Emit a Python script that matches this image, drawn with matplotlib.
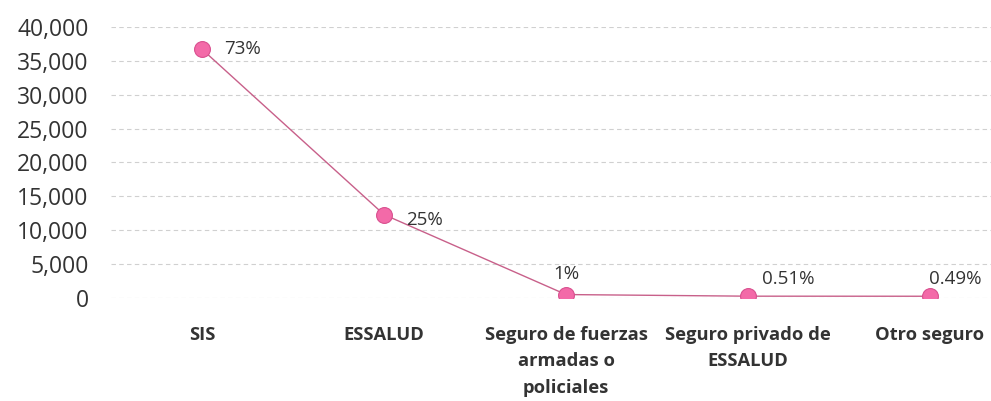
import matplotlib
matplotlib.use("Agg")
import matplotlib.pyplot as plt
from matplotlib.ticker import FuncFormatter

categories = ["SIS", "ESSALUD", "Seguro de fuerzas\narmadas o\npoliciales",
              "Seguro privado de\nESSALUD", "Otro seguro"]
values = [36700, 12300, 500, 260, 250]
labels = ["73%", "25%", "1%", "0.51%", "0.49%"]
yticks = [0, 5000, 10000, 15000, 20000, 25000, 30000, 35000, 40000]

plt.rcParams['font.family'] = ['Open Sans', 'DejaVu Sans']

fig = plt.figure(figsize=(9.91, 4.01), dpi=100)
ax = fig.add_axes([0.112, 0.257, 0.888, 0.676])
x = list(range(len(categories)))
ax.plot(x, values, color="#c8608a", linewidth=1.0, zorder=2)
ax.scatter(x, values, s=130, color="#f36aa8", edgecolor="#d9508f", linewidth=0.8, zorder=3)

offsets = [(16, 0, 'left', 'center'), (16, -4, 'left', 'center'), (0, 8, 'center', 'bottom'),
           (10, 6, 'left', 'bottom'), (18, 6, 'center', 'bottom')]
for xi, v, lab, (dx, dy, ha, va) in zip(x, values, labels, offsets):
    ax.annotate(lab, (xi, v), xytext=(dx, dy), textcoords="offset points",
                ha=ha, va=va, fontsize=13.5, color="#333333")

ax.set_xlim(-0.5, 4.335)
ax.set_ylim(0, 40000)
ax.set_yticks(yticks)
ax.yaxis.set_major_formatter(FuncFormatter(lambda v, p: f"{int(v):,}"))
ax.set_xticks(x)
ax.set_xticklabels(categories, fontsize=13.2, fontweight='bold', color="#333333", linespacing=1.6)
ax.tick_params(axis='y', labelsize=16.5, labelcolor="#333333", length=0, pad=16)
ax.tick_params(axis='x', length=0, pad=20)
ax.grid(axis='y', linestyle=(0, (4, 3)), color="#d0d0d0", linewidth=0.8)
ax.set_axisbelow(True)
for s in ax.spines.values():
    s.set_visible(False)

fig.savefig("out.png", dpi=100)
